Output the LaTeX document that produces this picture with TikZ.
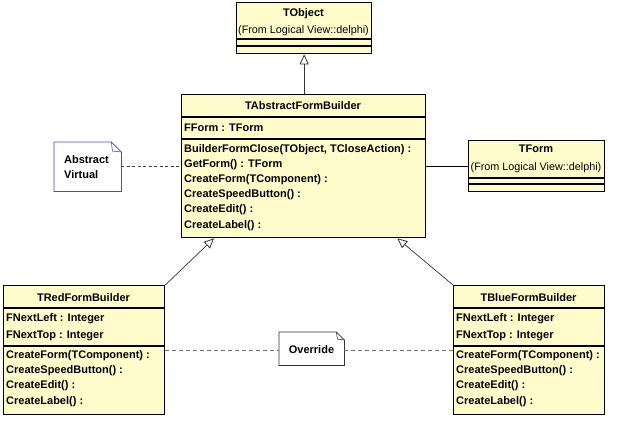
\documentclass[tikz,border=0pt]{standalone}
\usepackage{fontspec}
\setmainfont{Liberation Sans}
\usetikzlibrary{arrows.meta}
\definecolor{classfill}{RGB}{255,252,204}
\definecolor{noteblue}{RGB}{70,70,225}
\begin{document}
\begin{tikzpicture}[x=1pt,y=-1pt,
  classbox/.style={draw=black, line width=1.3pt, fill=classfill, inner sep=0pt, anchor=north west},
  sepline/.style={draw=black, line width=1.1pt},
  notebox/.style={draw=none, inner sep=0pt, anchor=north west},
  noteline/.style={line width=0.8pt, fill=white},
  ctitle/.style={font=\fontsize{11}{13}\selectfont\bfseries, inner sep=0pt, text height=8pt, text depth=2pt, anchor=center},
  member/.style={font=\fontsize{11}{13}\selectfont\bfseries, inner sep=0pt, text height=8pt, text depth=2pt, anchor=west},
  fromtxt/.style={font=\fontsize{10.8}{12}\selectfont, inner sep=0pt, text height=8pt, text depth=2pt, anchor=center},
  inherit/.style={draw=black!80, line width=0.7pt, -{Triangle[open,length=10pt,width=9pt,line width=0.8pt]}},
  assoc/.style={draw=black, line width=0.9pt},
  notelink/.style={draw=black!75, line width=0.8pt, dash pattern=on 3pt off 2.5pt},
  notelinkg/.style={draw=black!55, line width=0.9pt, dash pattern=on 4pt off 3pt}
]
\useasboundingbox (0,0) rectangle (618,421);

% TObject
\node[classbox, minimum width=135pt, minimum height=51pt] (tobj) at (236,2) {};
\draw[sepline] ([yshift=-37pt]tobj.north west) -- ([yshift=-37pt]tobj.north east);
\draw[sepline] ([yshift=-44pt]tobj.north west) -- ([yshift=-44pt]tobj.north east);
\node[ctitle] (tobjname) at (303.5,13) {TObject};
\node[fromtxt] (tobjfrom) at (303.5,30) {(From Logical View::delphi)};

% TAbstractFormBuilder
\node[classbox, minimum width=244pt, minimum height=143pt] (tabs) at (181,94) {};
\draw[sepline] ([yshift=-23pt]tabs.north west) -- ([yshift=-23pt]tabs.north east);
\draw[sepline] ([yshift=-45pt]tabs.north west) -- ([yshift=-45pt]tabs.north east);
\node[ctitle] (tabsname) at (303,106) {TAbstractFormBuilder};
\node[member] (tabsa1) at (184,128) {FForm : TForm};
\node[member] (tabsm1) at (184,149) {BuilderFormClose(TObject, TCloseAction) :};
\node[member] (tabsm2) at (184,164.2) {GetForm() : TForm};
\node[member] (tabsm3) at (184,179.4) {CreateForm(TComponent) :};
\node[member] (tabsm4) at (184,194.6) {CreateSpeedButton() :};
\node[member] (tabsm5) at (184,209.8) {CreateEdit() :};
\node[member] (tabsm6) at (184,225) {CreateLabel() :};

% TForm
\node[classbox, minimum width=136pt, minimum height=51pt] (tform) at (468,140) {};
\draw[sepline] ([yshift=-38pt]tform.north west) -- ([yshift=-38pt]tform.north east);
\draw[sepline] ([yshift=-44pt]tform.north west) -- ([yshift=-44pt]tform.north east);
\node[ctitle] (tformname) at (536,149.5) {TForm};
\node[fromtxt] (tformfrom) at (536,167) {(From Logical View::delphi)};

% TRedFormBuilder
\node[classbox, minimum width=161pt, minimum height=129pt] (tred) at (3,285) {};
\draw[sepline] ([yshift=-23pt]tred.north west) -- ([yshift=-23pt]tred.north east);
\draw[sepline] ([yshift=-61pt]tred.north west) -- ([yshift=-61pt]tred.north east);
\node[ctitle] (tredname) at (83.5,298) {TRedFormBuilder};
\node[member] (treda1) at (6,318.5) {FNextLeft : Integer};
\node[member] (treda2) at (6,335) {FNextTop : Integer};
\node[member] (tredm1) at (6,355.5) {CreateForm(TComponent) :};
\node[member] (tredm2) at (6,370.5) {CreateSpeedButton() :};
\node[member] (tredm3) at (6,385.5) {CreateEdit() :};
\node[member] (tredm4) at (6,401) {CreateLabel() :};

% TBlueFormBuilder
\node[classbox, minimum width=151pt, minimum height=129pt] (tblue) at (453,285) {};
\draw[sepline] ([yshift=-23pt]tblue.north west) -- ([yshift=-23pt]tblue.north east);
\draw[sepline] ([yshift=-61pt]tblue.north west) -- ([yshift=-61pt]tblue.north east);
\node[ctitle] (tbluename) at (528.5,298) {TBlueFormBuilder};
\node[member] (tbluea1) at (456,318.5) {FNextLeft : Integer};
\node[member] (tbluea2) at (456,335) {FNextTop : Integer};
\node[member] (tbluem1) at (456,355.5) {CreateForm(TComponent) :};
\node[member] (tbluem2) at (456,370.5) {CreateSpeedButton() :};
\node[member] (tbluem3) at (456,385.5) {CreateEdit() :};
\node[member] (tbluem4) at (456,401) {CreateLabel() :};

% Note: Abstract Virtual
\node[notebox, minimum width=67pt, minimum height=49pt] (nabs) at (54,142) {};
\draw[noteline, draw=noteblue] (nabs.north west) -- ([xshift=-10pt]nabs.north east) -- ([yshift=-10pt]nabs.north east) -- (nabs.south east) -- (nabs.south west) -- cycle;
\draw[line width=0.6pt, draw=noteblue] ([xshift=-10pt]nabs.north east) -- ([xshift=-9pt,yshift=-9pt]nabs.north east) -- ([yshift=-10pt]nabs.north east);
\node[member] (nabst1) at (64,160) {Abstract};
\node[member] (nabst2) at (64,175) {Virtual};

% Note: Override
\node[notebox, minimum width=65pt, minimum height=33pt] (nover) at (279,332) {};
\draw[noteline, draw=black!80] (nover.north west) -- ([xshift=-8pt]nover.north east) -- ([yshift=-8pt]nover.north east) -- (nover.south east) -- (nover.south west) -- cycle;
\draw[line width=0.6pt, draw=black!80] ([xshift=-8pt]nover.north east) -- ([xshift=-7pt,yshift=-7pt]nover.north east) -- ([yshift=-8pt]nover.north east);
\node[ctitle] (novert) at (311.5,350) {Override};

% connectors
\draw[inherit] (tabs.north -| tobj.south) -- (tobj.south);
\draw[inherit] (tred.north east) -- ([xshift=33pt]tabs.south west);
\draw[inherit] (tblue.north west) -- ([xshift=-29pt]tabs.south east);
\draw[assoc] (tabs.east) -- (tform.west);
\draw[notelink] (nabs.east) -- (nabs.east -| tabs.west);
\draw[notelinkg] (tred.east) -- (nover.west |- tred.east);
\draw[notelinkg] (nover.east |- tblue.west) -- (tblue.west);
\end{tikzpicture}
\end{document}
